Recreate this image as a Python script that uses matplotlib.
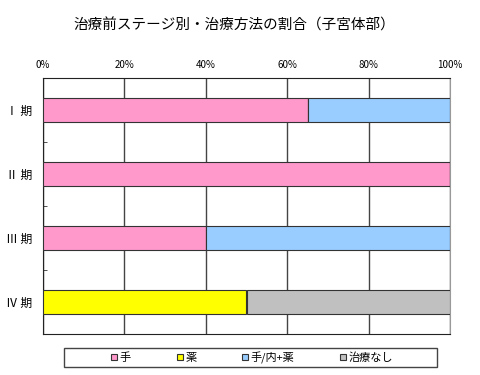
import numpy as np
import matplotlib.pyplot as plt
from matplotlib.lines import Line2D
from matplotlib.patches import Rectangle

plt.rcParams['font.family'] = ['Noto Sans CJK JP', 'DejaVu Sans']

stages = ['Ⅰ 期', 'Ⅱ 期', 'Ⅲ 期', 'Ⅳ 期']
methods = ['手', '薬', '手/内+薬', '治療なし']
colors = ['#FF99CC', '#FFFF00', '#99CCFF', '#C0C0C0']

# share of each treatment (fraction of stage total)
shu = [0.65, 1.00, 0.40, 0.00]
yaku = [0.00, 0.00, 0.00, 0.50]
shu_nai_yaku = [0.35, 0.00, 0.60, 0.00]
nashi = [0.00, 0.00, 0.00, 0.50]

series = [shu, yaku, shu_nai_yaku, nashi]

fig = plt.figure(figsize=(4.8, 3.75), dpi=100)
ax = fig.add_axes([43/480, 41/375, 407/480, 256/375])

y = np.arange(len(stages))
left = np.zeros(len(stages))
for vals, c in zip(series, colors):
    vals = np.array(vals)
    ax.barh(y, vals, left=left, height=0.39, color=c,
            edgecolor='#333333', linewidth=0.8, zorder=3)
    left += vals

ax.set_xlim(0, 1)
ax.set_ylim(3.5, -0.5)
ax.set_xticks(np.linspace(0, 1, 6))
ax.set_xticklabels(['0%', '20%', '40%', '60%', '80%', '100%'], fontsize=7)
ax.xaxis.tick_top()
ax.tick_params(axis='x', length=0, pad=6)

ax.set_yticks(y)
ax.set_yticklabels(stages, fontsize=8.5)
ax.set_yticks([0.5, 1.5, 2.5], minor=True)
ax.tick_params(axis='y', which='major', length=0, pad=8)
ax.tick_params(axis='y', which='minor', direction='in', length=3,
               color='#333333')

ax.grid(axis='x', color='#444444', linewidth=1)
ax.set_axisbelow(True)
for s in ['top', 'left', 'bottom']:
    ax.spines[s].set_color('#222222')
ax.spines['right'].set_color('#999999')

fig.text(234/480, 1 - 25/375, '治療前ステージ別・治療方法の割合（子宮体部）',
         ha='center', va='center', fontsize=10.5)

# legend box
fig.patches.append(Rectangle((64/480, 8/375), 373/480, 19/375,
                             transform=fig.transFigure, fill=False,
                             edgecolor='#444444', linewidth=1))
handles = [Line2D([], [], marker='s', linestyle='none', markersize=4,
                  markerfacecolor=c, markeredgecolor='#333333',
                  markeredgewidth=0.8) for c in colors]
fig.legend(handles, methods, loc='center', ncol=4,
           bbox_to_anchor=(251/480, 17.5/375), frameon=False,
           fontsize=8, handletextpad=0.0, columnspacing=3.9,
           handlelength=1.0)

fig.savefig('out.png', dpi=100)
